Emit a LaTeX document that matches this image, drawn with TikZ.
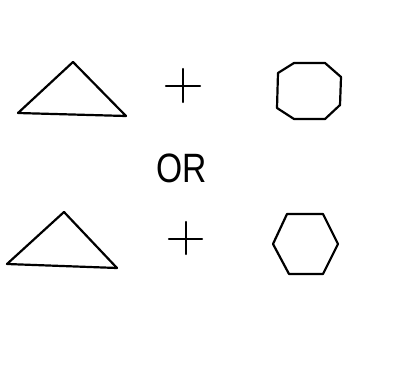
\documentclass[tikz,border=0pt]{standalone}
\usepackage{fontspec}
\setsansfont{Liberation Sans}
\usetikzlibrary{calc,positioning}

\begin{document}
\begin{tikzpicture}[x=1pt,y=-1pt]
  \tikzset{sketch/.style={draw, line width=2.2pt, line join=round, line cap=round}}
  \tikzset{ortext/.style={font=\sffamily\fontsize{41}{41}\selectfont, inner sep=0pt, xscale=0.82}}
  \useasboundingbox[fill=white] (0,0) rectangle (406,374);
  % first row: triangle + octagon
  \coordinate (t1a) at (73,62);
  \coordinate (t1b) at (18,113);
  \coordinate (t1c) at (126,116);
  \draw[sketch] (t1a) -- (t1b) -- (t1c) -- cycle;
  \coordinate (p1) at (183,86);
  \draw[sketch] ($(p1)+(-17,0)$) -- ($(p1)+(17,0)$);
  \draw[sketch] ($(p1)+(0,-17)$) -- ($(p1)+(0,16)$);
  \draw[sketch] (294,63) -- (325,63) -- (341,77) -- (340,105) -- (325,119)
    -- (294,119) -- (277,108) -- (278,73) -- cycle;
  % the word between the rows
  \node[ortext] (or) at (182,168) {OR};
  % second row: triangle + hexagon
  \coordinate (t2a) at (64,212);
  \coordinate (t2b) at (7,264);
  \coordinate (t2c) at (117,268);
  \draw[sketch] (t2a) -- (t2b) -- (t2c) -- cycle;
  \coordinate (p2) at (186,239);
  \draw[sketch] ($(p2)+(-17,0)$) -- ($(p2)+(16,0)$);
  \draw[sketch] ($(p2)+(0,-17)$) -- ($(p2)+(0,15)$);
  \draw[sketch] (287,214) -- (323,214) -- (338,244) -- (323,274) -- (289,274)
    -- (273,244) -- cycle;
\end{tikzpicture}
\end{document}
